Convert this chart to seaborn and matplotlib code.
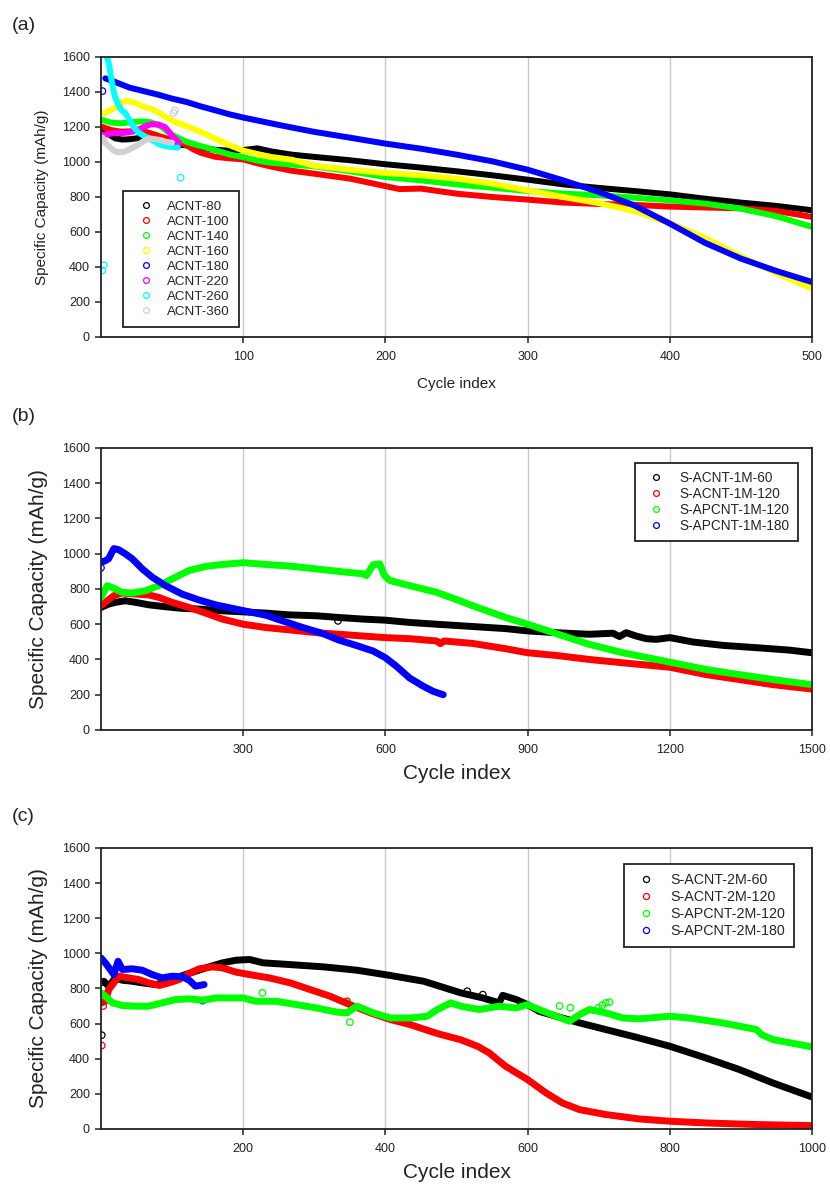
import matplotlib
matplotlib.use('Agg')
import matplotlib.pyplot as plt
from matplotlib.lines import Line2D
import pandas as pd
import seaborn as sns

sns.set_style('white')
plt.rcParams['font.family'] = ['Liberation Sans', 'DejaVu Sans']

# ---------------- panel (a) ----------------
a_names = ['ACNT-80', 'ACNT-100', 'ACNT-140', 'ACNT-160', 'ACNT-180', 'ACNT-220', 'ACNT-260', 'ACNT-360']
a_colors = ['#000000', '#ff0000', '#00ff00', '#ffff00', '#0000ff', '#ff00ff', '#00ffff', '#d0d0d0']

a80_x = [1, 5, 10, 15, 20, 25, 30, 35, 40, 45, 50, 60, 70, 80, 90, 100, 110, 120, 134, 150, 175, 200, 225, 250, 275,
         300, 325, 350, 375, 400, 425, 450, 475, 500]
a80_y = [1195, 1160, 1135, 1128, 1130, 1135, 1145, 1140, 1130, 1115, 1100, 1095, 1082, 1070, 1065, 1068, 1078, 1060,
         1042, 1029, 1010, 987, 968, 947, 924, 899, 872, 852, 834, 815, 790, 768, 749, 724]
a100_x = [1, 7, 14, 21, 28, 35, 42, 50, 60, 65, 70, 80, 90, 100, 110, 120, 134, 150, 175, 200, 210, 225, 250, 275, 300,
          325, 350, 375, 400, 425, 450, 475, 500]
a100_y = [1200, 1183, 1173, 1175, 1179, 1164, 1145, 1126, 1097, 1072, 1053, 1030, 1021, 1015, 992, 973, 950, 933, 905,
          862, 845, 848, 819, 800, 785, 768, 760, 755, 745, 740, 735, 720, 686]
a140_x = [1, 7, 14, 21, 28, 35, 42, 50, 60, 70, 80, 90, 100, 110, 120, 134, 150, 175, 200, 225, 250, 275, 300, 325, 350,
          375, 400, 425, 450, 475, 500]
a140_y = [1240, 1225, 1221, 1227, 1232, 1227, 1205, 1154, 1116, 1091, 1068, 1044, 1027, 1008, 995, 985, 975, 947, 914,
          895, 872, 853, 834, 819, 810, 796, 781, 762, 733, 690, 629]
a160_x = [1, 5, 10, 15, 18, 25, 30, 35, 40, 45, 50, 60, 70, 80, 90, 100, 110, 120, 134, 150, 175, 200, 225, 250, 275,
          300, 325, 350, 375, 400, 425, 450, 475, 500]
a160_y = [1275, 1290, 1310, 1340, 1350, 1335, 1315, 1305, 1285, 1260, 1236, 1205, 1173, 1135, 1097, 1065, 1045, 1028,
          1013, 979, 956, 937, 924, 905, 876, 838, 800, 765, 720, 650, 565, 460, 365, 276]
a180_x = [3, 10, 20, 30, 40, 50, 60, 70, 80, 90, 100, 126, 150, 175, 200, 225, 250, 275, 300, 325, 350, 375, 400, 425,
          450, 475, 500]
a180_y = [1478, 1457, 1425, 1405, 1385, 1362, 1343, 1318, 1296, 1273, 1254, 1210, 1172, 1139, 1105, 1076, 1042, 1004,
          956, 895, 829, 752, 648, 537, 448, 377, 314]
a220_x = [1, 5, 10, 15, 20, 25, 30, 35, 40, 45, 50, 55]
a220_y = [1150, 1160, 1165, 1165, 1170, 1180, 1200, 1215, 1215, 1200, 1150, 1110]
a260_x = [4, 5, 6, 7, 8, 9, 10, 12, 14, 17, 20, 23, 26, 30, 34, 38, 42, 46, 50, 54]
a260_y = [1600, 1580, 1540, 1490, 1440, 1400, 1370, 1330, 1300, 1280, 1240, 1200, 1170, 1150, 1135, 1115, 1097, 1090,
          1085, 1082]
a360_x = [1, 3, 5, 8, 10, 13, 16, 19, 22, 26, 30, 34, 38, 42, 46, 50]
a360_y = [1140, 1110, 1095, 1070, 1060, 1055, 1058, 1068, 1080, 1097, 1120, 1135, 1130, 1125, 1115, 1110]

# stray single cycles
a_out = {'ACNT-180': ([1], [1405]),
         'ACNT-260': ([1, 2, 56], [380, 410, 910]),
         'ACNT-360': ([51, 52], [1280, 1295])}

# ---------------- panel (b) ----------------
b_names = ['S-ACNT-1M-60', 'S-ACNT-1M-120', 'S-APCNT-1M-120', 'S-APCNT-1M-180']
b_colors = ['#000000', '#ff0000', '#00ff00', '#0000ff']

b1_x = [0, 16, 30, 51, 73, 101, 136, 171, 207, 256, 300, 348, 397, 454, 503, 553, 600, 651, 708, 784, 854, 900, 960,
        1030, 1080, 1094, 1108, 1129, 1150, 1171, 1200, 1220, 1249, 1312, 1382, 1453, 1500]
b1_y = [695, 714, 724, 733, 724, 710, 699, 690, 686, 676, 670, 663, 653, 648, 638, 629, 623, 610, 600, 587, 575, 562,
        552, 543, 549, 530, 552, 533, 518, 514, 524, 514, 499, 480, 467, 453, 438]
b2_x = [0, 13, 27, 44, 73, 101, 122, 150, 186, 221, 256, 300, 348, 397, 454, 503, 553, 600, 651, 708, 716, 724, 784,
        854, 900, 960, 1030, 1101, 1200, 1277, 1347, 1418, 1500]
b2_y = [705, 733, 762, 777, 771, 766, 752, 724, 695, 663, 629, 600, 581, 568, 552, 543, 533, 524, 518, 505, 490, 505,
        491, 461, 438, 423, 400, 381, 356, 314, 286, 257, 232]
b3_x = [0, 13, 27, 44, 66, 94, 122, 150, 186, 221, 256, 300, 348, 397, 454, 503, 553, 560, 574, 588, 598, 609, 651,
        708, 757, 784, 854, 900, 960, 1030, 1101, 1200, 1277, 1347, 1418, 1500]
b3_y = [752, 819, 804, 781, 777, 790, 819, 857, 905, 928, 939, 949, 939, 930, 914, 899, 886, 876, 937, 943, 876, 848,
        819, 781, 733, 705, 638, 600, 547, 486, 438, 385, 343, 314, 286, 257]
b4_x = [0, 6, 16, 27, 37, 51, 66, 87, 108, 136, 171, 207, 242, 277, 313, 348, 383, 426, 468, 503, 538, 574, 600, 623,
        651, 680, 701, 722]
b4_y = [956, 956, 971, 1029, 1023, 1000, 971, 914, 867, 819, 771, 737, 710, 690, 670, 651, 619, 581, 547, 509, 480,
        448, 410, 362, 295, 248, 219, 200]

b_out = {'S-ACNT-1M-60': ([500], [619]),
         'S-APCNT-1M-180': ([0], [920])}

# ---------------- panel (c) ----------------
c_names = ['S-ACNT-2M-60', 'S-ACNT-2M-120', 'S-APCNT-2M-120', 'S-APCNT-2M-180']
c_colors = ['#000000', '#ff0000', '#00ff00', '#0000ff']

c1_x = [4, 11, 20, 30, 44, 58, 77, 96, 115, 133, 152, 171, 190, 209, 228, 266, 313, 360, 407, 454, 476, 506, 537, 560,
        565, 584, 600, 616, 640, 673, 710, 757, 800, 851, 898, 945, 1000]
c1_y = [841, 813, 860, 847, 841, 832, 822, 841, 874, 898, 923, 946, 961, 965, 946, 936, 923, 904, 874, 841, 813, 775,
        746, 718, 761, 737, 708, 670, 642, 604, 566, 518, 471, 404, 338, 262, 182]
c2_x = [1, 6, 11, 18, 25, 39, 53, 67, 82, 96, 110, 124, 138, 157, 171, 190, 209, 237, 266, 294, 322, 350, 379, 407, 435,
        464, 476, 506, 530, 546, 569, 600, 626, 649, 673, 710, 757, 800, 851, 922, 1000]
c2_y = [718, 727, 794, 832, 870, 860, 851, 832, 817, 832, 851, 885, 912, 923, 917, 893, 879, 860, 832, 794, 756, 708,
        661, 623, 594, 555, 540, 508, 470, 433, 357, 281, 205, 148, 110, 82, 57, 44, 34, 25, 19]
c3_x = [0, 6, 16, 30, 49, 67, 86, 105, 124, 143, 162, 181, 200, 218, 247, 275, 303, 332, 346, 360, 383, 407, 435, 459,
        473, 492, 506, 532, 560, 584, 600, 616, 640, 659, 673, 687, 710, 734, 757, 800, 827, 874, 922, 929, 945, 1000]
c3_y = [775, 756, 718, 703, 699, 699, 718, 737, 741, 733, 746, 746, 746, 727, 727, 708, 689, 665, 661, 699, 661, 632,
        632, 642, 680, 718, 699, 680, 699, 689, 708, 680, 642, 613, 651, 680, 661, 632, 627, 642, 632, 604, 566, 537,
        509, 467]
c4_x = [0, 6, 13, 18, 24, 30, 44, 58, 72, 86, 100, 115, 124, 133, 145]
c4_y = [974, 946, 908, 879, 955, 908, 912, 904, 879, 860, 870, 866, 847, 813, 822]

c_out = {'S-ACNT-2M-60': ([1, 3, 515, 537], [534, 800, 784, 765]),
         'S-ACNT-2M-120': ([1, 3, 346], [475, 700, 727]),
         'S-APCNT-2M-120': ([227, 346, 350, 645, 660, 700, 705, 710, 715], [775, 718, 608, 700, 690, 690, 705, 718, 722]),
         'S-APCNT-2M-180': ([143], [731])}


def long_df(names, xs_list, ys_list):
    frames = [pd.DataFrame({'cycle': xs, 'capacity': ys, 'sample': n})
              for n, xs, ys in zip(names, xs_list, ys_list)]
    return pd.concat(frames, ignore_index=True)


def draw_panel(rect, tag, names, colors, xs_list, ys_list, outliers, xmax, xstep,
               lw, label_fs, ylabelpad, xlabelpad, leg_fs, leg_ms, leg_kw):
    ax = fig.add_axes(rect)
    pal = dict(zip(names, colors))
    df = long_df(names, xs_list, ys_list)
    sns.lineplot(data=df, x='cycle', y='capacity', hue='sample', hue_order=names, palette=pal,
                 estimator=None, sort=False, linewidth=lw, legend=False, ax=ax,
                 solid_capstyle='round', solid_joinstyle='round')
    for n, (ox, oy) in outliers.items():
        sns.scatterplot(x=ox, y=oy, color=pal[n], facecolor='none', edgecolor=pal[n],
                        s=22, linewidth=0.9, ax=ax, legend=False)

    ax.set_xlim(0, xmax)
    ax.set_ylim(0, 1600)
    ax.set_xticks(range(xstep, xmax + 1, xstep))
    ax.set_yticks(range(0, 1601, 200))
    ax.set_axisbelow(True)
    ax.grid(axis='x', color='#c8c8c8', linewidth=1.0)
    ax.grid(axis='y', visible=False)
    for sp in ax.spines.values():
        sp.set_color('#222222')
        sp.set_linewidth(1.3)
    ax.tick_params(axis='both', direction='out', length=4, width=1.1, color='#222222',
                   labelsize=9, labelcolor='#222222', left=True, bottom=True)
    ax.tick_params(axis='x', pad=6)
    ax.tick_params(axis='y', pad=4)
    ax.set_xlabel('Cycle index', fontsize=label_fs, color='#222222', labelpad=xlabelpad)
    ax.set_ylabel('Specific Capacity (mAh/g)', fontsize=label_fs, color='#222222', labelpad=ylabelpad)

    handles = [Line2D([0], [0], marker='o', linestyle='none', markerfacecolor='none',
                      markeredgecolor=c, markersize=leg_ms, markeredgewidth=0.9) for c in colors]
    leg = ax.legend(handles, names, fontsize=leg_fs, frameon=True, fancybox=False,
                    framealpha=1, edgecolor='#222222', borderaxespad=0, **leg_kw)
    leg.get_frame().set_linewidth(1.3)

    fig.text(rect[0] - 0.108, rect[1] + rect[3] + 0.026, tag, fontsize=14, color='#222222',
             ha='left', va='center')
    return ax


fig = plt.figure(figsize=(8.3, 11.92), dpi=100)

draw_panel([0.1217, 0.7173, 0.8566, 0.2349], '(a)', a_names, a_colors,
           [a80_x, a100_x, a140_x, a160_x, a180_x, a220_x, a260_x, a360_x],
           [a80_y, a100_y, a140_y, a160_y, a180_y, a220_y, a260_y, a360_y],
           a_out, 500, 100, 4.3, 11, 9, 10, 9.6, 4.2,
           dict(loc='lower left', bbox_to_anchor=(0.031, 0.036), borderpad=0.7, handlelength=2.0,
                handletextpad=0.6, labelspacing=0.2))

draw_panel([0.1217, 0.3876, 0.8566, 0.2366], '(b)', b_names, b_colors,
           [b1_x, b2_x, b3_x, b4_x], [b1_y, b2_y, b3_y, b4_y],
           b_out, 1500, 300, 5.0, 15, 10, 6, 9.8, 4.2,
           dict(loc='upper right', bbox_to_anchor=(0.980, 0.947), borderpad=0.6, handlelength=2.0,
                handletextpad=0.7, labelspacing=0.14))

draw_panel([0.1217, 0.0529, 0.8566, 0.2357], '(c)', c_names, c_colors,
           [c1_x, c2_x, c3_x, c4_x], [c1_y, c2_y, c3_y, c4_y],
           c_out, 1000, 200, 5.0, 15, 10, 6, 10.3, 4.4,
           dict(loc='upper right', bbox_to_anchor=(0.975, 0.943), borderpad=0.6, handlelength=2.0,
                handletextpad=0.7, labelspacing=0.22))

fig.savefig('out.png', dpi=100)
